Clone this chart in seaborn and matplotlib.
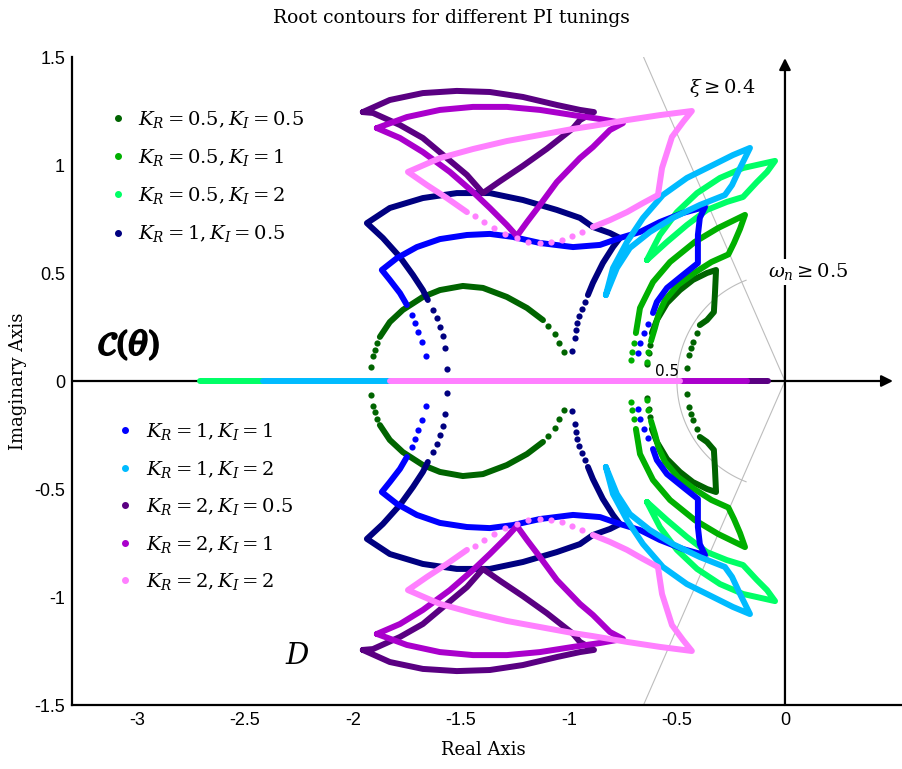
import numpy as np
import pandas as pd
import seaborn as sns
import matplotlib
matplotlib.use("Agg")
import matplotlib.pyplot as plt
from matplotlib.lines import Line2D
import matplotlib.patheffects as pe

# ---------------- data (upper half-plane; the lower half is the complex conjugate) ----------------
LABELS = [r"$K_R = 0.5, K_I = 0.5$", r"$K_R = 0.5, K_I = 1$", r"$K_R = 0.5, K_I = 2$",
          r"$K_R = 1, K_I = 0.5$", r"$K_R = 1, K_I = 1$", r"$K_R = 1, K_I = 2$",
          r"$K_R = 2, K_I = 0.5$", r"$K_R = 2, K_I = 1$", r"$K_R = 2, K_I = 2$"]
COLORS = ["#006400", "#00B000", "#00FF66", "#000080", "#0000FF", "#00BBFF",
          "#5A0082", "#AA00CC", "#FF80FF"]

# K_R=0.5, K_I=0.5
T1_LINES = [
    [(-1.875, 0.204), (-1.829, 0.273), (-1.769, 0.329), (-1.676, 0.389), (-1.597, 0.421),
     (-1.491, 0.440), (-1.398, 0.431), (-1.287, 0.389), (-1.194, 0.338), (-1.120, 0.282)],
    [(-0.616, 0.222), (-0.593, 0.282), (-0.546, 0.361), (-0.486, 0.421), (-0.426, 0.468),
     (-0.361, 0.500), (-0.319, 0.514), (-0.324, 0.407), (-0.329, 0.319), (-0.361, 0.282),
     (-0.394, 0.259)],
]
T1_DOTS = [(-1.917, 0.065), (-1.907, 0.116), (-1.898, 0.144), (-1.889, 0.176),
           (-1.097, 0.255), (-1.065, 0.218), (-1.046, 0.176), (-1.023, 0.134),
           (-0.639, 0.079), (-0.630, 0.130), (-0.625, 0.167),
           (-0.407, 0.222), (-0.426, 0.181), (-0.435, 0.153), (-0.444, 0.120), (-0.454, 0.060)]
T1_REAL = None

# K_R=0.5, K_I=1
T2_LINES = [
    [(-0.690, 0.222), (-0.671, 0.338), (-0.611, 0.458), (-0.532, 0.551), (-0.417, 0.644),
     (-0.310, 0.708), (-0.185, 0.769), (-0.208, 0.704), (-0.236, 0.639), (-0.262, 0.586),
     (-0.340, 0.551), (-0.417, 0.502), (-0.495, 0.445), (-0.555, 0.375), (-0.585, 0.310),
     (-0.602, 0.245), (-0.620, 0.185)],
]
T2_DOTS = [(-0.713, 0.097), (-0.708, 0.134), (-0.699, 0.176), (-0.634, 0.134), (-0.639, 0.088)]
T2_REAL = None

# K_R=0.5, K_I=2
T3_LINES = [
    [(-0.639, 0.560), (-0.579, 0.676), (-0.500, 0.782), (-0.407, 0.870), (-0.301, 0.940),
     (-0.194, 0.986), (-0.046, 1.019), (-0.083, 0.968), (-0.130, 0.921), (-0.194, 0.852),
     (-0.269, 0.829), (-0.361, 0.792), (-0.454, 0.722), (-0.546, 0.644), (-0.639, 0.560)],
]
T3_DOTS = []
T3_REAL = (-2.708, -2.417)

# K_R=1, K_I=0.5
T4_LINES = [
    [(-1.653, 0.375), (-1.676, 0.421), (-1.722, 0.491), (-1.782, 0.574), (-1.861, 0.662),
     (-1.935, 0.731), (-1.829, 0.801), (-1.676, 0.847), (-1.519, 0.870), (-1.366, 0.870),
     (-1.213, 0.838), (-1.056, 0.792), (-0.949, 0.755), (-0.889, 0.713), (-0.810, 0.685),
     (-0.764, 0.662), (-0.796, 0.620), (-0.843, 0.546), (-0.889, 0.454), (-0.912, 0.398)],
]
T4_DOTS = [(-1.565, 0.056), (-1.574, 0.153), (-1.583, 0.208), (-1.597, 0.250), (-1.611, 0.292),
           (-1.630, 0.329), (-0.926, 0.366), (-0.940, 0.333), (-0.954, 0.301), (-0.963, 0.269),
           (-0.968, 0.236), (-0.972, 0.199), (-0.986, 0.139)]
T4_REAL = None

# K_R=1, K_I=1
T5_LINES = [
    [(-1.750, 0.352), (-1.782, 0.407), (-1.829, 0.468), (-1.866, 0.514), (-1.796, 0.569),
     (-1.704, 0.620), (-1.597, 0.657), (-1.472, 0.676), (-1.366, 0.681), (-1.259, 0.667),
     (-1.134, 0.639), (-0.981, 0.620), (-0.856, 0.630), (-0.764, 0.662), (-0.671, 0.690),
     (-0.579, 0.736), (-0.472, 0.778), (-0.370, 0.806), (-0.394, 0.755), (-0.403, 0.676),
     (-0.403, 0.546), (-0.472, 0.491), (-0.546, 0.431), (-0.593, 0.366), (-0.611, 0.315)],
]
T5_DOTS = [(-1.662, 0.116), (-1.681, 0.181), (-1.699, 0.227), (-1.713, 0.269), (-1.727, 0.306),
           (-0.634, 0.264), (-0.653, 0.222), (-0.671, 0.176), (-0.681, 0.130)]
T5_REAL = None

# K_R=1, K_I=2
T6_LINES = [
    [(-0.829, 0.398), (-0.796, 0.523), (-0.731, 0.644), (-0.657, 0.755), (-0.565, 0.861),
     (-0.454, 0.940), (-0.333, 1.000), (-0.241, 1.046), (-0.162, 1.079), (-0.208, 0.986),
     (-0.245, 0.907), (-0.278, 0.861), (-0.394, 0.815), (-0.519, 0.755), (-0.625, 0.690),
     (-0.718, 0.616), (-0.778, 0.523), (-0.829, 0.398)],
]
T6_DOTS = []
T6_REAL = (-2.417, -1.829)

# K_R=2, K_I=0.5
T7_LINES = [
    [(-1.954, 1.245), (-1.829, 1.301), (-1.676, 1.333), (-1.519, 1.343), (-1.366, 1.338),
     (-1.213, 1.315), (-1.056, 1.278), (-0.949, 1.255), (-0.884, 1.245), (-0.949, 1.208),
     (-0.981, 1.170), (-1.102, 1.075), (-1.213, 0.996), (-1.319, 0.925), (-1.398, 0.870),
     (-1.472, 0.954), (-1.565, 1.032), (-1.676, 1.125), (-1.782, 1.185), (-1.907, 1.241),
     (-1.954, 1.245)],
]
T7_DOTS = []
T7_REAL = (-0.176, -0.079)

# K_R=2, K_I=1
T8_LINES = [
    [(-1.889, 1.171), (-1.750, 1.222), (-1.597, 1.255), (-1.444, 1.269), (-1.287, 1.269),
     (-1.134, 1.255), (-0.981, 1.231), (-0.856, 1.213), (-0.750, 1.194), (-0.810, 1.162),
     (-0.889, 1.083), (-0.949, 1.032), (-1.056, 0.921), (-1.134, 0.815), (-1.194, 0.736),
     (-1.241, 0.671), (-1.287, 0.722), (-1.366, 0.801), (-1.444, 0.875), (-1.551, 0.968),
     (-1.676, 1.060), (-1.782, 1.125), (-1.889, 1.171)],
]
T8_DOTS = []
T8_REAL = (-0.486, -0.176)

# K_R=2, K_I=2
T9_LINES = [
    [(-1.472, 0.782), (-1.565, 0.847), (-1.657, 0.907), (-1.745, 0.968), (-1.597, 1.032),
     (-1.444, 1.074), (-1.287, 1.111), (-1.134, 1.139), (-0.981, 1.167), (-0.889, 1.181),
     (-0.731, 1.208), (-0.579, 1.231), (-0.431, 1.250), (-0.472, 1.199), (-0.523, 1.130),
     (-0.569, 0.986), (-0.588, 0.861), (-0.657, 0.824), (-0.731, 0.782), (-0.810, 0.745),
     (-0.889, 0.713)],
]
T9_DOTS = [(-0.940, 0.690), (-0.986, 0.671), (-1.032, 0.653), (-1.083, 0.644), (-1.134, 0.639),
           (-1.190, 0.644), (-1.241, 0.662), (-1.296, 0.681), (-1.347, 0.708), (-1.394, 0.736),
           (-1.435, 0.764)]
T9_REAL = (-1.829, -0.486)

ALL_LINES = [T1_LINES, T2_LINES, T3_LINES, T4_LINES, T5_LINES, T6_LINES, T7_LINES, T8_LINES, T9_LINES]
ALL_DOTS = [T1_DOTS, T2_DOTS, T3_DOTS, T4_DOTS, T5_DOTS, T6_DOTS, T7_DOTS, T8_DOTS, T9_DOTS]
ALL_REAL = [T1_REAL, T2_REAL, T3_REAL, T4_REAL, T5_REAL, T6_REAL, T7_REAL, T8_REAL, T9_REAL]

ZETA = 0.4        # damping-ratio bound
WN = 0.5          # natural-frequency bound
XTICKS = [-3, -2.5, -2, -1.5, -1, -0.5, 0]
XTICKLABELS = ["-3", "-2.5", "-2", "-1.5", "-1", "-0.5", "0"]
YTICKS = [1.5, 1, 0.5, 0, -0.5, -1, -1.5]
YTICKLABELS = ["1.5", "1", "0.5", "0", "-0.5", "-1", "-1.5"]

# ---------------- build tables ----------------
line_rows, dot_rows = [], []
for k, (segs, dots, real) in enumerate(zip(ALL_LINES, ALL_DOTS, ALL_REAL)):
    sid = 0
    for seg in segs:
        for sign in (1, -1):
            for (x, y) in seg:
                line_rows.append(dict(t=k, seg=sid, x=x, y=sign * y))
            sid += 1
    if real is not None:
        for x in real:
            line_rows.append(dict(t=k, seg=sid, x=x, y=0.0))
        sid += 1
    for sign in (1, -1):
        for (x, y) in dots:
            dot_rows.append(dict(t=k, x=x, y=sign * y))
lines_df = pd.DataFrame(line_rows)
dots_df = pd.DataFrame(dot_rows)

# ---------------- style ----------------
sns.set_style("white")
plt.rcParams["font.family"] = ["DejaVu Sans"]
plt.rcParams["mathtext.fontset"] = "dejavuserif"
plt.rcParams["axes.unicode_minus"] = False
plt.rcParams["text.color"] = "black"
plt.rcParams["axes.labelcolor"] = "black"
plt.rcParams["xtick.labelcolor"] = "black"
plt.rcParams["ytick.labelcolor"] = "black"
SERIF = ["DejaVu Serif"]
TICKFONT = ["Liberation Sans Narrow", "Liberation Sans", "DejaVu Sans"]

fig = plt.figure(figsize=(9.02, 7.69), dpi=100)
ax = fig.add_axes([72 / 902, 1 - 705 / 769, 1 - 72 / 902, 648 / 769])
ax.set_xlim(-3.3, 0.5417)
ax.set_ylim(-1.5, 1.5)

# reference lines: damping-ratio bound and natural-frequency bound
ang = np.arccos(ZETA)
xz = -1.5 / np.tan(ang)
for sgn in (1, -1):
    sns.lineplot(x=[0, xz], y=[0, sgn * 1.5], color="#bdbdbd", lw=0.8, ax=ax,
                 estimator=None, sort=False, legend=False, zorder=0.5)
th = np.deg2rad(np.linspace(111, 249, 120))
sns.lineplot(x=WN * np.cos(th), y=WN * np.sin(th), color="#bdbdbd", lw=0.8, ax=ax,
             estimator=None, sort=False, legend=False, zorder=0.5)

# axes arrows
arrow_kw = dict(arrowstyle="-|>", lw=1.6, color="black", mutation_scale=17, shrinkA=0, shrinkB=0)
ax.annotate("", xy=(0.50, 0), xytext=(-3.3, 0), arrowprops=arrow_kw, annotation_clip=False, zorder=1)
ax.annotate("", xy=(0, 1.495), xytext=(0, -1.5), arrowprops=arrow_kw, annotation_clip=False, zorder=1)

# contours
for k in range(9):
    sub = lines_df[lines_df.t == k]
    sns.lineplot(data=sub, x="x", y="y", units="seg", estimator=None, sort=False,
                 color=COLORS[k], lw=4.3, solid_capstyle="round", solid_joinstyle="round",
                 legend=False, ax=ax, zorder=2 + k * 0.1)
    dsub = dots_df[dots_df.t == k]
    if len(dsub):
        sns.scatterplot(data=dsub, x="x", y="y", color=COLORS[k], s=20, linewidth=0,
                        legend=False, ax=ax, zorder=2.05 + k * 0.1)

# axes styling
for s in ("top", "right"):
    ax.spines[s].set_visible(False)
for s in ("left", "bottom"):
    ax.spines[s].set_color("black")
    ax.spines[s].set_linewidth(1.6)
ax.set_xticks(XTICKS)
ax.set_xticklabels(XTICKLABELS, fontfamily=TICKFONT, fontsize=13, color="black")
ax.set_yticks(YTICKS)
ax.set_yticklabels(YTICKLABELS, fontfamily=TICKFONT, fontsize=13, color="black")
ax.tick_params(direction="in", length=7, width=0.6, color="#c8c8c8", pad=5)

ax.set_xlabel("Real Axis", fontfamily=SERIF, fontsize=13, color="black")
ax.xaxis.label.set_va("center")
ax.xaxis.set_label_coords((483 - 72) / 830, (705 - 750) / 648)
ax.set_ylabel("Imaginary Axis", fontfamily=SERIF, fontsize=13, color="black")
ax.yaxis.label.set_va("center")
ax.yaxis.set_label_coords((18 - 72) / 830, 0.5)
fig.text(0.5, 1 - 18 / 769, "Root contours for different PI tunings", ha="center", va="center",
         fontfamily=SERIF, fontsize=13.5, color="black")

# annotations
ax.text(-0.292, 1.356, r"$\xi \geq 0.4$", fontsize=14, ha="center", va="center", zorder=5)
ax.text(0.106, 0.505, r"$\omega_n \geq 0.5$", fontsize=14, ha="center", va="center", zorder=5,
        bbox=dict(boxstyle="square,pad=0.15", fc="white", ec="none"))
ax.text(-0.546, 0.045, "0.5", fontsize=11, ha="center", va="center", zorder=6)
t = ax.text(-3.037, 0.167, r"$\mathcal{C}(\theta)$", fontsize=23, ha="center", va="center", zorder=6)
t.set_path_effects([pe.withStroke(linewidth=1.6, foreground="black")])
ax.text(-2.255, -1.273, r"$D$", fontsize=21, ha="center", va="center", zorder=6)

# legends
def handles(idx):
    return [Line2D([], [], marker="o", ls="", color=COLORS[i], markersize=4.0) for i in idx]

leg1 = ax.legend(handles(range(4)), [LABELS[i] for i in range(4)], loc="upper left",
                 bbox_to_anchor=(108 / 902, 1 - 109 / 769), bbox_transform=fig.transFigure,
                 frameon=False, borderpad=0, borderaxespad=0, handlelength=1.0,
                 handletextpad=0.55, labelspacing=0.88, fontsize=14)
ax.add_artist(leg1)
leg2 = ax.legend(handles(range(4, 9)), [LABELS[i] for i in range(4, 9)], loc="upper left",
                 bbox_to_anchor=(115 / 902, 1 - 421 / 769), bbox_transform=fig.transFigure,
                 frameon=False, borderpad=0, borderaxespad=0, handlelength=1.0,
                 handletextpad=0.6, labelspacing=0.85, fontsize=14)

fig.savefig("out.png", dpi=100)
